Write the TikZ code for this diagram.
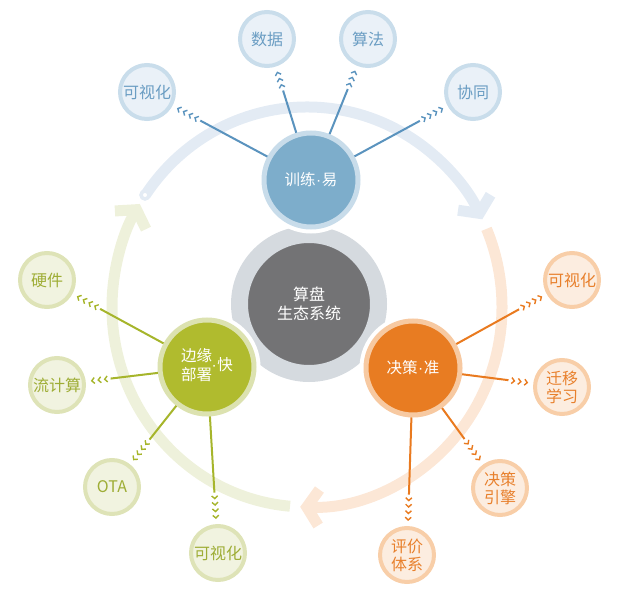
\documentclass[tikz,border=0pt]{standalone}
\usepackage{fontspec}
\setmainfont{Noto Sans CJK SC}
\newfontfamily\dotfont{Liberation Sans}
\newcommand\mdot{{\dotfont\kern0.5pt·\kern0.5pt}}
\usetikzlibrary{calc,arrows.meta}

\definecolor{bluearc}{HTML}{E3EBF4}
\definecolor{bluemain}{HTML}{7DADCB}
\definecolor{bluemainring}{HTML}{C8DCEA}
\definecolor{bluesat}{HTML}{EAF1F8}
\definecolor{bluesatring}{HTML}{C9DDEB}
\definecolor{bluetext}{HTML}{6A9DC3}
\definecolor{blueline}{HTML}{5A93BE}
\definecolor{greenarc}{HTML}{EEF1DB}
\definecolor{greenmain}{HTML}{B0BB2E}
\definecolor{greenmainring}{HTML}{DCE2B0}
\definecolor{greensat}{HTML}{F1F3E0}
\definecolor{greensatring}{HTML}{DEE3B7}
\definecolor{greentext}{HTML}{9EAD35}
\definecolor{greenline}{HTML}{A6B52B}
\definecolor{orangearc}{HTML}{FCE7D6}
\definecolor{orangemain}{HTML}{E87C22}
\definecolor{orangemainring}{HTML}{F7C9A1}
\definecolor{orangesat}{HTML}{FCEDE0}
\definecolor{orangesatring}{HTML}{F8CEA8}
\definecolor{orangetext}{HTML}{E8802C}
\definecolor{orangeline}{HTML}{E97A1F}
\definecolor{grayring}{HTML}{D5DADF}
\definecolor{graymain}{HTML}{737375}

\begin{document}
\begin{tikzpicture}[x=1pt,y=1pt,
  flow/.style={line width=11pt, -{Straight Barb[length=12pt,width=36pt]}},
  mainnode/.style={circle, minimum size=94pt, inner sep=0pt, line width=5pt,
    fill=#1main, draw=#1mainring, text=white, align=center,
    font=\fontsize{15.5}{18}\selectfont, preaction={draw=white, line width=13pt}},
  satnode/.style={circle, minimum size=54pt, inner sep=0pt, line width=4pt,
    fill=#1sat, draw=#1satring, text=#1text, align=center,
    font=\fontsize{16}{18}\selectfont},
  link/.style={line width=2pt},
  chev/.style={line width=1.4pt}]
  \useasboundingbox (0,0) rectangle (617,-593);

  % Draw the cycle of arcs
  \draw[flow, bluearc] ([shift={(307,-307)}]146:195 and 200)
    arc[start angle=146, end angle=26, x radius=195, y radius=200];
  \draw[flow, orangearc] ([shift={(307,-307)}]23:195 and 200)
    arc[start angle=23, end angle=-92, x radius=195, y radius=200];
  \draw[flow, greenarc] ([shift={(307,-307)}]-95:195 and 200)
    arc[start angle=-95, end angle=-211, x radius=195, y radius=200];
  \node[circle, draw=bluearc, line width=3.5pt, fill=white, inner sep=0pt,
    minimum size=8pt] (bstart) at (145,-195) {};

  % Draw the core
  \node[circle, minimum size=139pt, inner sep=0pt, line width=17pt,
    fill=graymain, draw=grayring, text=white, align=center,
    font=\fontsize{16}{19}\selectfont] (core) at (309,-304) {算盘\\生态系统};

  % Draw the three main nodes
  \node[mainnode=blue] (B) at (311,-180) {训练\mdot 易};
  \node[mainnode=green] (G) at (207,-367)
    {\begin{tabular}{@{}c@{}}边缘\\部署\end{tabular}\hspace{-1pt}\mdot 快};
  \node[mainnode=orange] (O) at (413,-368) {决策\mdot 准};

  % Draw the satellites
  \node[satnode=blue] (b1) at (147,-92) {可视化};
  \node[satnode=blue] (b2) at (267,-39) {数据};
  \node[satnode=blue] (b3) at (368,-39) {算法};
  \node[satnode=blue] (b4) at (473,-92) {协同};
  \node[satnode=green] (g1) at (47,-280) {硬件};
  \node[satnode=green] (g2) at (57,-385) {流计算};
  \node[satnode=green] (g3) at (112,-487) {OTA};
  \node[satnode=green] (g4) at (218,-553) {可视化};
  \node[satnode=orange] (o1) at (572,-280) {可视化};
  \node[satnode=orange] (o2) at (562,-387) {迁移\\学习};
  \node[satnode=orange] (o3) at (500,-488) {决策\\引擎};
  \node[satnode=orange] (o4) at (407,-555) {评价\\体系};

  % Draw the links with chevrons
  \foreach \m/\s/\n/\c in {B/b1/4/blueline, B/b2/3/blueline, B/b3/3/blueline,
      B/b4/4/blueline, G/g1/4/greenline, G/g2/3/greenline, G/g3/4/greenline,
      G/g4/4/greenline, O/o1/4/orangeline, O/o2/3/orangeline,
      O/o3/4/orangeline, O/o4/4/orangeline} {
    \pgfmathsetmacro\lend{35+6.5*(\n-1)+6}
    \draw[link, \c] (\m) -- ($(\s.center)!\lend pt!(\m.center)$);
    \foreach \k in {1,...,\n} {
      \pgfmathsetmacro\d{35+6.5*(\k-1)}
      \pgfmathsetmacro\dd{\d+2.8}
      \coordinate (P) at ($(\s.center)!\d pt!(\m.center)$);
      \coordinate (Q) at ($(\s.center)!\dd pt!(\m.center)$);
      \draw[chev, \c] ($(Q)!3pt!90:(P)$) -- (P) -- ($(Q)!3pt!-90:(P)$);
    }
  }
\end{tikzpicture}
\end{document}
